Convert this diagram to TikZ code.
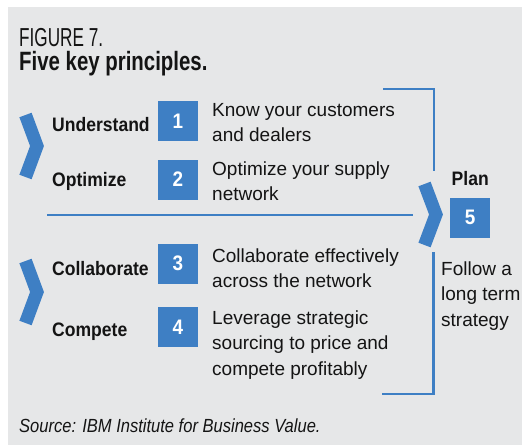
\documentclass[tikz,border=0pt]{standalone}
\usepackage{fontspec}
\setmainfont{Liberation Sans}
\newfontfamily\figfont[FakeStretch=0.66]{Liberation Sans}
\newfontfamily\headfont[FakeStretch=0.77]{Liberation Sans}
\newfontfamily\keyfont[FakeStretch=0.9]{Liberation Sans}
\newfontfamily\srcfont[FakeStretch=0.87]{Liberation Sans}
\usepackage{tikz}
\usetikzlibrary{positioning}

\definecolor{ibmblue}{RGB}{62,127,196}
\definecolor{panel}{RGB}{230,231,232}
\definecolor{ink}{RGB}{20,20,20}

\begin{document}
\begin{tikzpicture}[x=1pt, y=-1pt,
		num/.style   = {fill=ibmblue, text=white, minimum size=40pt, inner sep=0pt, font=\keyfont\bfseries\fontsize{21}{21}\selectfont},
		key/.style   = {anchor=base west, inner sep=0pt, text=ink, font=\keyfont\bfseries\fontsize{19.5}{20}\selectfont},
		desc/.style  = {anchor=base west, inner sep=0pt, text=ink, align=left, font=\fontsize{19}{25.5}\selectfont},
		chev/.style  = {draw=ibmblue, line width=13pt},
		rule/.style  = {draw=ibmblue, line width=2.6pt}]
		
		\useasboundingbox (0,0) rectangle (522,445);
		\fill[panel] (8,7) rectangle (522,445);
		
		% title
		\node[anchor=base west, inner sep=0pt, text=ink, font=\figfont\fontsize{26}{26}\selectfont] (fig) at (19,46) {FIGURE 7.};
		\node[anchor=base west, inner sep=0pt, text=ink, font=\headfont\bfseries\fontsize{26.5}{27}\selectfont] (head) at (19,70.7) {Five key principles.};
		
		% numbered steps
		\node[num] (n1) at (178,121) {1};
		\node[num] (n2) at (178,179.5) {2};
		\node[num] (n3) at (178,263.5) {3};
		\node[num] (n4) at (178,327) {4};
		\node[num] (n5) at (470,217.5) {5};
		
		\node[key] (k1) at (52,131) {Understand};
		\node[key] (k2) at (52,186) {Optimize};
		\node[key] (k3) at (52,275) {Collaborate};
		\node[key] (k4) at (52,336.7) {Compete};
		\node[key] (k5) at (451.5,185) {Plan};
		
		% base = last line
		\node[desc] (d1) at (212,141.5) {Know your customers\\and dealers};
		\node[desc] (d2) at (212,200.5) {Optimize your supply\\network};
		\node[desc] (d3) at (212,287.5) {Collaborate effectively\\across the network};
		\node[desc] (d4) at (212,375) {Leverage strategic\\sourcing to price and\\compete profitably};
		\node[desc] (d5) at (441,326) {Follow a\\long term\\strategy};
		
		% chevrons
		\draw[chev] (25.5,115) -- (37,146) -- (25.5,177);
		\draw[chev] (25.5,261) -- (37,292) -- (25.5,323);
		\draw[chev] (424.5,184) -- (436,214.5) -- (424.5,245);
		
		% rules and brackets
		\draw[rule] (47,215) -- (413,215);
		\draw[rule] (383,89) -| (434,171);
		\draw[rule] (433.5,252) |- (382,394);
		
		\node[anchor=base west, inner sep=0pt, text=ink, font=\srcfont\itshape\fontsize{19}{20}\selectfont] (src) at (19,432.7) {Source: IBM Institute for Business Value.};
		
	\end{tikzpicture}
\end{document}
